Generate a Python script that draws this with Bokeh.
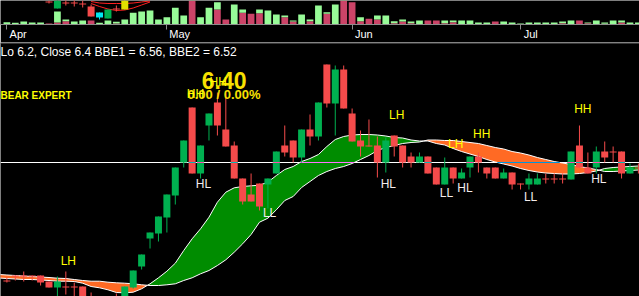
import numpy as np
from bokeh.plotting import figure
from bokeh.models import Range1d, FixedTicker, Span, LinearAxis
from bokeh.layouts import column
from bokeh.embed import file_html
from bokeh.resources import INLINE
from bokeh.core.properties import value

# ---------------- data ----------------
months = ["Apr", "May", "Jun", "Jul"]
month_start_idx = [0, 19, 41, 61]

opens = [5.42, 5.47, 5.47, 5.47, 5.47, 5.41, 5.35, 5.36, 5.36, 5.36,
         5.24, 5.17, 5.10, 5.22, 5.17, 5.35, 5.56, 5.84, 5.89, 6.05,
         6.27, 6.60, 7.15, 6.49, 6.97, 7.20, 6.93, 6.77, 6.44, 6.28,
         6.39, 6.38, 6.49, 6.77, 6.82, 6.65, 6.93, 6.86, 7.58, 7.19,
         7.53, 7.09, 6.82, 6.77, 6.77, 6.60, 6.87, 6.77, 6.66, 6.60,
         6.66, 6.55, 6.38, 6.55, 6.44, 6.55, 6.66, 6.55, 6.55, 6.44,
         6.50, 6.39, 6.38, 6.38, 6.44, 6.44, 6.44, 6.43, 6.77, 6.55,
         6.55, 6.71, 6.71, 6.71, 6.49, 6.55]
highs = [5.45, 5.47, 5.51, 5.47, 5.47, 5.41, 5.46, 5.51, 5.40, 5.36,
         5.30, 5.20, 5.22, 5.29, 5.36, 5.52, 5.68, 5.90, 6.06, 6.28,
         6.55, 6.82, 7.15, 6.77, 7.09, 7.30, 7.29, 6.81, 6.44, 6.49,
         6.39, 6.44, 6.71, 6.97, 6.82, 6.93, 7.08, 7.20, 7.58, 7.57,
         7.57, 7.14, 6.92, 7.03, 6.86, 6.85, 6.87, 6.77, 6.70, 6.70,
         6.66, 6.55, 6.65, 6.55, 6.54, 6.66, 6.70, 6.55, 6.55, 6.54,
         6.50, 6.39, 6.49, 6.49, 6.49, 6.49, 6.49, 6.71, 6.97, 6.70,
         6.76, 6.81, 6.76, 6.71, 6.59, 6.59]
lows = [5.40, 5.42, 5.41, 5.42, 5.37, 5.35, 5.22, 5.28, 5.24, 5.17,
        5.10, 5.00, 4.97, 5.07, 5.14, 5.34, 5.53, 5.74, 5.81, 5.90,
        6.18, 6.55, 6.49, 6.44, 6.82, 6.87, 6.76, 6.44, 6.18, 6.21,
        6.12, 6.14, 6.49, 6.66, 6.60, 6.60, 6.77, 6.82, 7.15, 6.87,
        7.14, 6.81, 6.66, 6.76, 6.45, 6.50, 6.66, 6.55, 6.55, 6.60,
        6.49, 6.38, 6.38, 6.39, 6.44, 6.45, 6.50, 6.44, 6.44, 6.44,
        6.33, 6.33, 6.33, 6.38, 6.39, 6.39, 6.39, 6.43, 6.55, 6.49,
        6.49, 6.60, 6.60, 6.44, 6.49, 6.49]
closes = [5.41, 5.46, 5.46, 5.46, 5.40, 5.35, 5.41, 5.35, 5.35, 5.20,
          5.12, 5.04, 5.02, 5.10, 5.36, 5.52, 5.68, 5.90, 6.06, 6.28,
          6.55, 6.82, 6.49, 6.77, 7.09, 6.97, 6.76, 6.44, 6.21, 6.21,
          6.16, 6.44, 6.71, 6.70, 6.65, 6.93, 6.86, 7.20, 7.19, 7.53,
          7.14, 6.81, 6.76, 6.76, 6.60, 6.82, 6.76, 6.60, 6.60, 6.66,
          6.49, 6.38, 6.55, 6.44, 6.50, 6.66, 6.60, 6.49, 6.44, 6.50,
          6.38, 6.38, 6.44, 6.44, 6.43, 6.43, 6.43, 6.71, 6.55, 6.49,
          6.71, 6.65, 6.70, 6.49, 6.55, 6.54]

# volume (thousands): selling part (pink) and buying part (light green)
vol_down = [0, 0, 0, 0, 0, 10, 20, 33, 0, 0,
            40, 0, 0, 10, 0, 0, 0, 0, 0, 0,
            0, 0, 260, 0, 0, 150, 50, 0, 117, 107,
            113, 0, 0, 73, 30, 0, 33, 0, 107, 0,
            270, 223, 33, 57, 50, 0, 13, 30, 13, 0,
            40, 40, 13, 23, 0, 0, 0, 0, 30, 0,
            0, 0, 0, 0, 0, 0, 13, 0, 40, 13,
            0, 7, 0, 20, 0, 0]
vol_up = [23, 17, 30, 20, 20, 0, 110, 17, 30, 40,
          0, 17, 40, 17, 50, 117, 130, 140, 50, 73,
          167, 90, 0, 73, 167, 73, 0, 200, 33, 0,
          37, 140, 100, 17, 10, 100, 17, 190, 16, 200,
          0, 0, 40, 0, 40, 90, 20, 20, 17, 40,
          0, 0, 27, 17, 40, 40, 20, 20, 0, 30,
          20, 10, 20, 20, 20, 20, 17, 40, 0, 7,
          40, 13, 40, 20, 20, 20]

# BBE1 (fast) / BBE2 (slow), bar -1 .. 75
ema_fast = [5.445, 5.44, 5.435, 5.43, 5.43, 5.425, 5.42, 5.413, 5.413, 5.41, 5.393,
            5.36, 5.347, 5.327, 5.30, 5.297, 5.303, 5.337, 5.387, 5.447, 5.513,
            5.593, 5.72, 5.837, 5.937, 6.053, 6.203, 6.303, 6.347, 6.36, 6.367,
            6.373, 6.403, 6.47, 6.53, 6.56, 6.61, 6.64, 6.68, 6.76, 6.83,
            6.86, 6.875, 6.88, 6.88, 6.875, 6.865, 6.85, 6.845, 6.825, 6.815,
            6.815, 6.79, 6.775, 6.74, 6.71, 6.685, 6.66, 6.63, 6.605, 6.585,
            6.565, 6.54, 6.52, 6.505, 6.495, 6.49, 6.485, 6.485, 6.49, 6.50,
            6.515, 6.54, 6.55, 6.555, 6.56, 6.565]
ema_slow = [5.48, 5.475, 5.47, 5.465, 5.46, 5.455, 5.45, 5.443, 5.44, 5.43, 5.42,
            5.413, 5.413, 5.403, 5.397, 5.393, 5.387, 5.377, 5.37, 5.37, 5.377,
            5.387, 5.42, 5.447, 5.487, 5.52, 5.57, 5.627, 5.703, 5.787, 5.88,
            6.003, 6.043, 6.127, 6.22, 6.26, 6.35, 6.41, 6.47, 6.51, 6.54,
            6.56, 6.59, 6.63, 6.67, 6.72, 6.75, 6.77, 6.79, 6.80, 6.805,
            6.825, 6.825, 6.82, 6.82, 6.81, 6.80, 6.79, 6.77, 6.75, 6.735,
            6.71, 6.695, 6.675, 6.65, 6.63, 6.61, 6.595, 6.58, 6.56, 6.545,
            6.53, 6.51, 6.51, 6.515, 6.52, 6.525]
ref_level = 6.60

# swing labels
sw_text = ["LH", "LH", "LH", "HH", "HH", "HH", "HH",
           "HL", "LL", "HL", "LL", "HL", "LL", "HL"]
sw_x = [7.3, 46.3, 53.3, 56.4, 68.4, 22.4, 25.1,
        23.35, 31.2, 45.3, 52.2, 54.4, 62.2, 70.3]
sw_y = [5.62, 7.08, 6.79, 6.89, 7.14, 7.29, 7.41,
        6.39, 6.10, 6.39, 6.30, 6.35, 6.26, 6.44]

# bits of the upper (price) panel showing through the volume pane
up_idx = [5, 6, 7, 8, 9, 10, 11, 12, 13, 14]
up_open = [7.99, 7.92, 7.98, 7.98, 7.97, 7.94, 7.88, 7.82, 7.92, 7.91]
up_close = [7.98, 8.03, 7.97, 7.97, 7.96, 7.84, 7.83, 7.91, 7.91, 8.03]
up_high = [8.00, 8.03, 8.02, 8.02, 8.00, 7.96, 7.88, 7.91, 7.95, 8.03]
up_low = [7.97, 7.92, 7.95, 7.94, 7.93, 7.84, 7.81, 7.82, 7.89, 7.91]
up_col = ["#f54b4b", "#00b050", "#f54b4b", "#f54b4b", "#f54b4b", "#f54b4b",
          "#00e8f0", "#00b050", "#f54b4b", "#e0e000"]
up_band_idx = [10, 11, 12, 13, 14, 15, 16, 17]
up_band_hi = [7.99, 7.975, 7.97, 7.97, 7.97, 7.975, 7.985, 7.995]
up_band_lo = [7.97, 7.94, 7.915, 7.90, 7.905, 7.925, 7.955, 7.985]

# ---------------- styling ----------------
BG = "#000000"
C_UP = "#00b050"
C_DN = "#f54b4b"
BAND_G = "#008c00"
BAND_O = "#ff6a24"
VOL_G = "#98fb98"
VOL_P = "#cc4468"
FONT = value("Liberation Sans")
W = 639
H_TOP = 42
H_MAIN = 254
label_shift = [1.34, 1.52, 1.39, 1.21]   # month names sit right of their tick

n = len(opens)
idx = np.arange(n)
x_range = Range1d(-0.7601, -0.7601 + W / 8.42)


def base(fig):
    fig.background_fill_color = BG
    fig.border_fill_color = BG
    fig.outline_line_color = None
    fig.xgrid.visible = False
    fig.ygrid.visible = False
    fig.min_border_left = 0
    fig.min_border_right = 0
    fig.min_border_top = 0
    fig.min_border_bottom = 0


# ---------------- volume pane ----------------
pv = figure(width=W, height=H_TOP, x_range=x_range, y_range=Range1d(0, 240),
            output_backend="svg", toolbar_location=None, y_axis_location=None)
base(pv)
pv.extra_y_ranges = {"up": Range1d(7.76, 8.00)}
vd = np.array(vol_down, float)
vu = np.array(vol_up, float)
pv.vbar(x=idx, width=0.8, bottom=0, top=vd, fill_color=VOL_P, line_color=None)
pv.vbar(x=idx, width=0.8, bottom=vd, top=vd + vu, fill_color=VOL_G, line_color=None)
# upper-panel remnants
pv.line(up_band_idx, up_band_hi, line_color="#ff2020", line_width=1, y_range_name="up")
pv.line(up_band_idx, up_band_lo, line_color="#ff2020", line_width=1, y_range_name="up")
pv.segment(x0=up_idx, y0=up_low, x1=up_idx, y1=up_high, line_color=up_col, y_range_name="up")
pv.vbar(x=up_idx, width=0.83, top=np.maximum(up_open, up_close), bottom=np.minimum(up_open, up_close),
        fill_color=up_col, line_color=None, y_range_name="up")

# axis 1: line + tick marks at month starts, no labels
ax = pv.xaxis[0]
ax.ticker = FixedTicker(ticks=month_start_idx)
ax.major_label_overrides = {i: "" for i in month_start_idx}
ax.major_label_text_font_size = "0px"
ax.axis_line_color = "#8c8c8c"
ax.major_tick_line_color = "#8c8c8c"
ax.major_tick_out = 5
ax.major_tick_in = 0
ax.minor_tick_line_color = None
ax.major_label_standoff = 0

# axis 2: month names, just right of each tick
lab_pos = [m + s for m, s in zip(month_start_idx, label_shift)]
ax2 = LinearAxis(ticker=FixedTicker(ticks=lab_pos),
                 major_label_overrides={pp: m for pp, m in zip(lab_pos, months)})
ax2.axis_line_color = None
ax2.major_tick_line_color = None
ax2.minor_tick_line_color = None
ax2.major_tick_out = 0
ax2.major_tick_in = 0
ax2.major_label_standoff = -2
ax2.major_label_text_color = "#ffffff"
ax2.major_label_text_font = "Liberation Sans"
ax2.major_label_text_font_size = "11px"
pv.add_layout(ax2, "below")

# ---------------- price pane ----------------
top_price = 8.22 - (H_TOP) / 100.0
p = figure(width=W, height=H_MAIN, x_range=x_range, y_range=Range1d(5.26, top_price),
           output_backend="svg", toolbar_location=None,
           x_axis_location=None, y_axis_location=None)
base(p)

p.add_layout(Span(location=top_price - 0.004, dimension="width", line_color="#8c8c8c",
                  line_width=1, level="underlay"))
p.add_layout(Span(location=ref_level, dimension="width", line_color="#ffffff",
                  line_width=1, level="underlay"))

# band between BBE1 and BBE2, split at crossings
ex = list(range(-1, n))
bx, bf, bs = [], [], []
for k in range(len(ex)):
    bx.append(ex[k]); bf.append(ema_fast[k]); bs.append(ema_slow[k])
    if k < len(ex) - 1:
        d0 = ema_fast[k] - ema_slow[k]
        d1 = ema_fast[k + 1] - ema_slow[k + 1]
        if d0 * d1 < 0:
            t = d0 / (d0 - d1)
            v = ema_fast[k] + t * (ema_fast[k + 1] - ema_fast[k])
            bx.append(ex[k] + t); bf.append(v); bs.append(v)
bx = np.array(bx); bf = np.array(bf); bs = np.array(bs)
p.varea(x=bx, y1=bs, y2=np.maximum(bf, bs), fill_color=BAND_G)
p.varea(x=bx, y1=bf, y2=np.maximum(bf, bs), fill_color=BAND_O)
p.line(bx, bf, line_color="#ffffff", line_width=1)
p.line(bx, bs, line_color="#ffffff", line_width=1)

# xor-looking reference line where it crosses the band
fx = np.arange(-1, n - 1 + 1e-9, 0.02)
ff = np.interp(fx, bx, bf)
ss = np.interp(fx, bx, bs)
inside = (np.minimum(ff, ss) <= ref_level) & (np.maximum(ff, ss) >= ref_level)
seg_x0, seg_x1, seg_c = [], [], []
k = 0
while k < len(fx):
    if inside[k]:
        j = k
        while j + 1 < len(fx) and inside[j + 1]:
            j += 1
        seg_x0.append(fx[k]); seg_x1.append(fx[j])
        seg_c.append("#ff73ff" if ff[(k + j) // 2] > ss[(k + j) // 2] else "#0095db")
        k = j + 1
    else:
        k += 1
p.segment(x0=seg_x0, y0=ref_level, x1=seg_x1, y1=ref_level, line_color=seg_c, line_width=1)

# candles
o = np.array(opens); c = np.array(closes)
cols = [C_UP if cc > oo else C_DN for oo, cc in zip(o, c)]
p.segment(x0=idx, y0=lows, x1=idx, y1=highs, line_color=cols, line_width=1)
p.vbar(x=idx, width=0.83, top=np.maximum(o, c), bottom=np.minimum(o, c),
       fill_color=cols, line_color=None)
cross = [(i, "#ff4faf" if c[i] > o[i] else "#0bb4b4") for i in range(n)
         if min(o[i], c[i]) < ref_level < max(o[i], c[i])]
p.segment(x0=[i - 0.415 for i, _ in cross], y0=ref_level,
          x1=[i + 0.415 for i, _ in cross], y1=ref_level,
          line_color=[cc for _, cc in cross], line_width=1)

# texts
p.text(x=[x_range.start], y=[7.71], text=["Lo 6.2, Close 6.4 BBE1 = 6.56, BBE2 = 6.52"],
       text_color="#ffffff", text_font=FONT, text_font_size="12px",
       text_align="left", text_baseline="middle")
p.text(x=[x_range.start], y=[7.27], text=["BEAR EXPERT"], text_color="#ffff00",
       text_font=FONT, text_font_size="10px", text_font_style="bold",
       text_align="left", text_baseline="middle")
p.text(x=[25.8], y=[7.42], text=["6.40"], text_color="#f8e000", text_font=FONT,
       text_font_size="23px", text_font_style="bold", text_align="center",
       text_baseline="middle")
p.text(x=[21.45], y=[7.28], text=["0.00 / 0.00%"], text_color="#f8e000", text_font=FONT,
       text_font_size="13px", text_font_style="bold", text_align="left",
       text_baseline="middle")
sw_col = ["#ffff00" if t[1] == "H" else "#f4ecec" for t in sw_text]
p.text(x=sw_x, y=sw_y, text=sw_text, text_color=sw_col, text_font=FONT,
       text_font_size="12px", text_align="center", text_baseline="middle")

layout = column(pv, p, spacing=0)
with open("out.html", "w") as fh:
    fh.write(file_html(layout, INLINE))
